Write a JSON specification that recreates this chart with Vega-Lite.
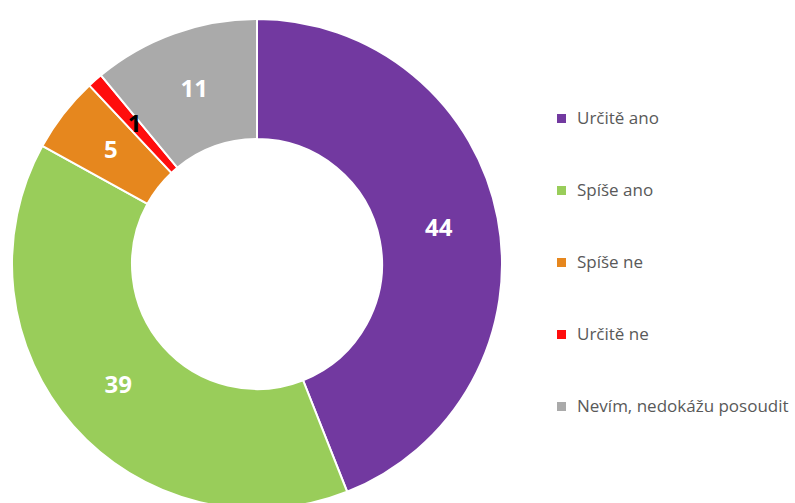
{
  "$schema": "https://vega.github.io/schema/vega-lite/v6.json",
  "autosize": {"type": "none"},
  "width": 514,
  "height": 528,
  "padding": {"left": 0, "top": 0, "right": 281, "bottom": 0},
  "background": "white",
  "config": {"view": {"stroke": null}},
  "data": {
    "values": [
      {"odpoved": "Určitě ano", "procento": 44, "poradi": 1},
      {"odpoved": "Spíše ano", "procento": 39, "poradi": 2},
      {"odpoved": "Spíše ne", "procento": 5, "poradi": 3},
      {"odpoved": "Určitě ne", "procento": 1, "poradi": 4},
      {"odpoved": "Nevím, nedokážu posoudit", "procento": 11, "poradi": 5}
    ]
  },
  "encoding": {
    "theta": {"field": "procento", "type": "quantitative", "stack": true},
    "order": {"field": "poradi", "type": "quantitative", "sort": "ascending"}
  },
  "layer": [
    {
      "mark": {"type": "arc", "radius": 245, "innerRadius": 125, "stroke": "white", "strokeWidth": 2},
      "encoding": {
        "color": {
          "field": "odpoved",
          "type": "nominal",
          "sort": ["Určitě ano", "Spíše ano", "Spíše ne", "Určitě ne", "Nevím, nedokážu posoudit"],
          "scale": {
            "domain": ["Určitě ano", "Spíše ano", "Spíše ne", "Určitě ne", "Nevím, nedokážu posoudit"],
            "range": ["#7239A0", "#99CD5A", "#E6871E", "#FF0D0D", "#AAAAAA"]
          },
          "legend": {
            "title": null,
            "orient": "none",
            "legendX": 553,
            "legendY": 110,
            "symbolType": "square",
            "symbolSize": 81,
            "symbolStrokeWidth": 0,
            "labelFont": "Open Sans",
            "labelFontSize": 17,
            "labelColor": "#595959",
            "labelLimit": 300,
            "labelOffset": 7,
            "rowPadding": 54
          }
        }
      }
    },
    {
      "mark": {"type": "text", "radius": 185, "font": "Open Sans", "fontSize": 24, "fontWeight": "bold"},
      "encoding": {
        "text": {"field": "procento", "type": "quantitative"},
        "color": {
          "condition": {"test": "datum.procento < 2", "value": "black"},
          "value": "white"
        }
      }
    }
  ]
}
